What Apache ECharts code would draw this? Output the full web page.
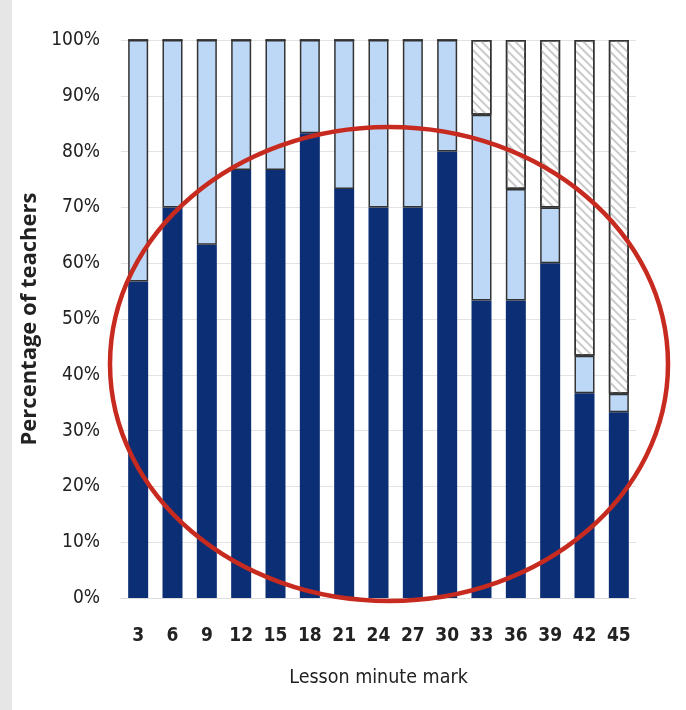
<!DOCTYPE html>
<html lang="en">
<head>
    <meta charset="UTF-8">
    <title>Percentage of teachers</title>
    <style>
        html,body{
            width: 100%;
            height: 100%;
            margin: 0;
            padding: 0;
            background: #fff;
        }
        #strip{
            position: absolute;
            left: 0;
            top: 0;
            width: 12px;
            height: 100%;
            background: #e6e6e6;
        }
        #chart{
            width: 686px;
            height: 710px;
        }
    </style>
</head>
<body>
    <div id="strip"></div>
    <div id="chart"></div>
    <script src="https://cdn.jsdelivr.net/npm/echarts@6/dist/echarts.min.js"></script>
    <script>
        // lesson minute marks
        var minutes = ['3','6','9','12','15','18','21','24','27','30','33','36','39','42','45'];
        // dark blue segment (%)
        var darkPart = [56.7, 70, 63.3, 76.7, 76.7, 83.3, 73.3, 70, 70, 80, 53.3, 53.3, 60, 36.7, 33.3];
        // light blue segment (%)
        var lightPart = [43.3, 30, 36.7, 23.3, 23.3, 16.7, 26.7, 30, 30, 20, 33.3, 20, 10, 6.7, 3.3];
        // hatched segment (%)
        var hatchPart = [0, 0, 0, 0, 0, 0, 0, 0, 0, 0, 13.4, 26.7, 30, 56.6, 63.4];

        var narrow = '"DejaVu Sans Condensed", sans-serif';
        var myChart = echarts.init(document.getElementById('chart'));

        var option = {
            backgroundColor: 'transparent',
            animation: false,
            grid: {
                left: 121,
                right: 50,
                top: 40,
                bottom: 112,
                containLabel: false
            },
            xAxis: {
                type: 'category',
                data: minutes,
                name: 'Lesson minute mark',
                nameLocation: 'middle',
                nameGap: 70,
                nameTextStyle: { color: '#222', fontSize: 19.5, fontFamily: narrow },
                axisLine: { lineStyle: { color: '#ddd' } },
                axisTick: { show: false },
                axisLabel: { color: '#222', fontSize: 19, fontWeight: 'bold', fontFamily: narrow, margin: 29 }
            },
            yAxis: {
                type: 'value',
                min: 0,
                max: 100,
                interval: 10,
                name: 'Percentage of teachers',
                nameLocation: 'middle',
                nameGap: 72,
                nameTextStyle: { color: '#222', fontSize: 22, fontWeight: 'bold', fontFamily: 'Open Sans' },
                axisLine: { show: false },
                axisTick: { show: false },
                axisLabel: {
                    color: '#222', fontSize: 19, fontFamily: narrow, margin: 21,
                    formatter: '{value}%'
                },
                splitLine: { lineStyle: { color: '#e3e3e3' } }
            },
            series: [
                {
                    name: 'dark',
                    type: 'bar',
                    stack: 'all',
                    barWidth: 20,
                    data: darkPart,
                    itemStyle: { color: '#0b2e75' }
                },
                {
                    name: 'light',
                    type: 'bar',
                    stack: 'all',
                    barWidth: 20,
                    data: lightPart,
                    itemStyle: { color: '#bdd7f7', borderColor: '#333', borderWidth: 1.5 }
                },
                {
                    name: 'hatch',
                    type: 'bar',
                    stack: 'all',
                    barWidth: 20,
                    data: hatchPart,
                    itemStyle: {
                        color: '#fff',
                        borderColor: '#333',
                        borderWidth: 1.5,
                        decal: {
                            symbol: 'rect',
                            color: '#cacaca',
                            dashArrayX: [1, 0],
                            dashArrayY: [1.5, 3.5],
                            rotation: Math.PI / 4
                        }
                    }
                }
            ],
            graphic: [
                {
                    type: 'ellipse',
                    z: 100,
                    shape: { cx: 389, cy: 364, rx: 279, ry: 237 },
                    style: { fill: 'none', stroke: '#c72a1f', lineWidth: 4.5 }
                }
            ]
        };
        myChart.setOption(option);
    </script>
</body>
</html>
